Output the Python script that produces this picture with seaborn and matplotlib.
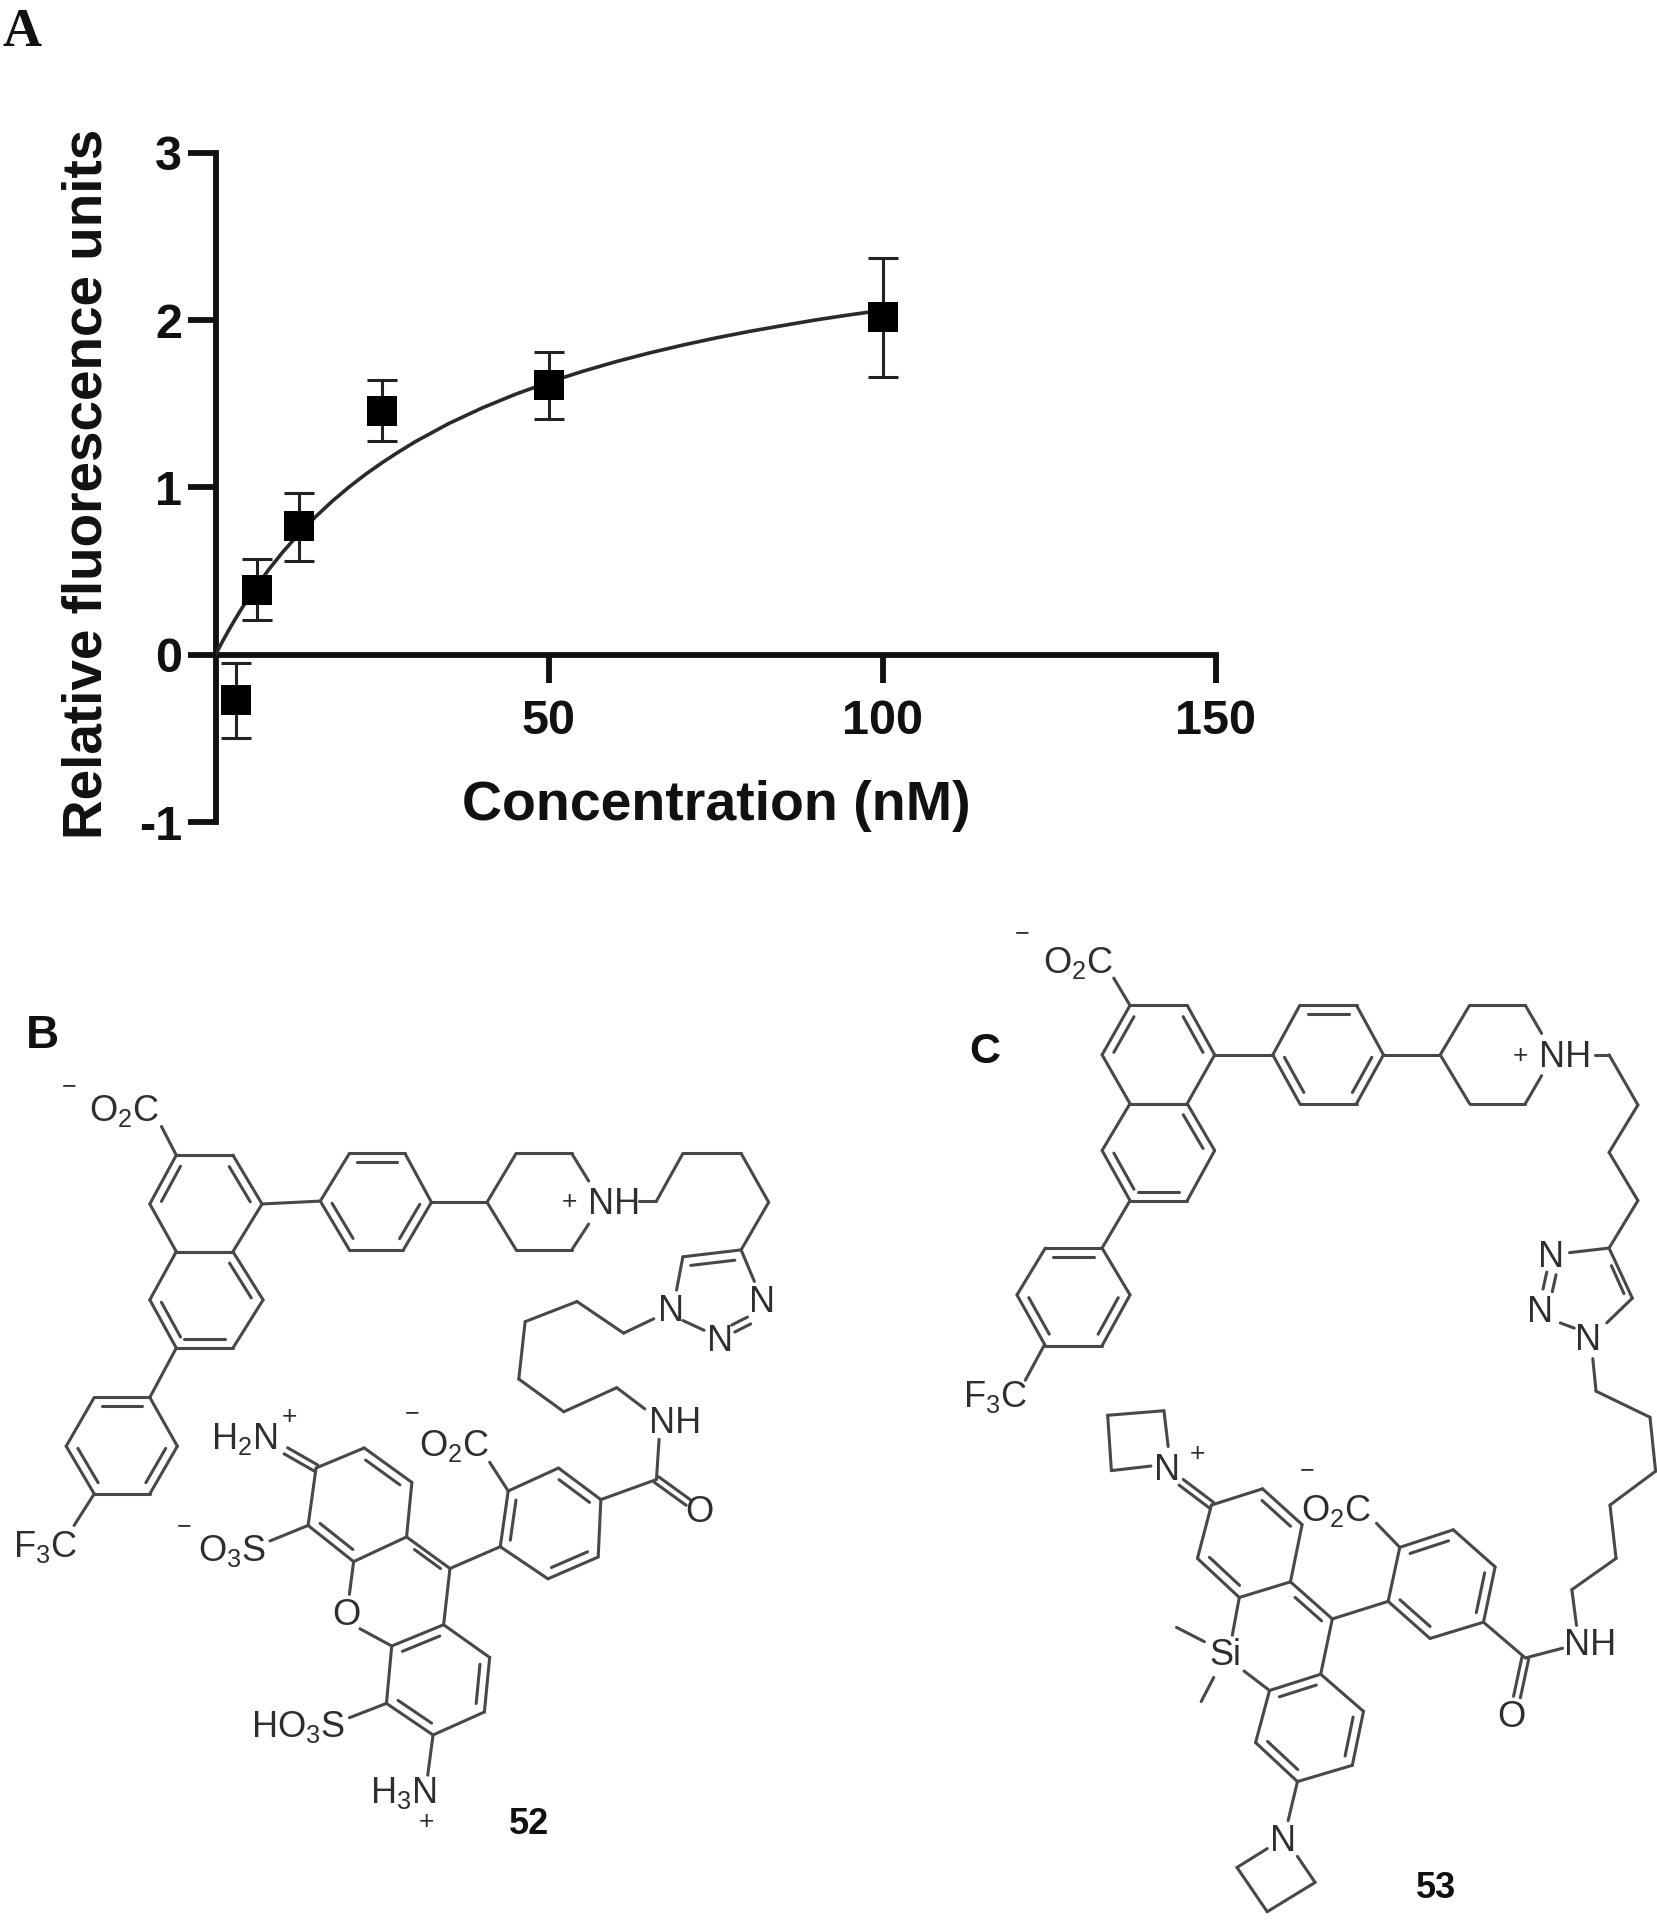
import numpy as np
import pandas as pd
import matplotlib
matplotlib.use("Agg")
import matplotlib.pyplot as plt
from matplotlib.collections import LineCollection
import seaborn as sns

# ---------- chart data ----------
conc = [3.125, 6.25, 12.5, 25, 50, 100]
rfu = [-0.27, 0.39, 0.77, 1.46, 1.61, 2.02]
err_low = [-0.50, 0.21, 0.56, 1.28, 1.41, 1.66]
err_high = [-0.05, 0.57, 0.97, 1.64, 1.81, 2.37]
curve_x = [0, 1, 2, 3, 4, 5, 6.25, 8, 10, 12.5, 15, 17.5, 20, 22.5, 25, 27.5, 30, 35, 40, 45,
           50, 55, 60, 65, 70, 75, 80, 85, 90, 95, 100]
curve_y = [0, 0.076, 0.148, 0.216, 0.281, 0.342, 0.415, 0.510, 0.610, 0.723, 0.825, 0.918, 1.002,
           1.079, 1.149, 1.214, 1.275, 1.383, 1.476, 1.558, 1.630, 1.694, 1.752, 1.804, 1.851,
           1.894, 1.933, 1.968, 2.002, 2.032, 2.060]
x_ticks = [50, 100, 150]
y_ticks = [-1, 0, 1, 2, 3]
y_tick_labels = ["-1", "0", "1", "2", "3"]

sns.set_theme(style="white")
plt.rcParams["font.family"] = ["Liberation Sans", "DejaVu Sans"]
plt.rcParams["mathtext.fontset"] = "custom"
plt.rcParams["mathtext.rm"] = "Liberation Sans"
plt.rcParams["mathtext.default"] = "rm"

W, H = 1658, 1920
fig = plt.figure(figsize=(W / 100, H / 100), dpi=100, facecolor="white")
INK = "#111111"
AXW = 4.2

ax = fig.add_axes([215.5 / W, 1 - 822 / H, (1216 - 215.5) / W, (822 - 153) / H])
ax.set_xlim(0, 150)
ax.set_ylim(-1, 3)
ax.patch.set_alpha(0)
points = pd.DataFrame({"conc": conc, "rfu": rfu})
fit = pd.DataFrame({"x": curve_x, "y": curve_y})
sns.lineplot(data=fit, x="x", y="y", ax=ax, color="#2a2a2a", lw=2.6, zorder=3)
rfu_a, lo_a, hi_a = np.array(rfu), np.array(err_low), np.array(err_high)
ax.errorbar(conc, rfu, yerr=[rfu_a - lo_a, hi_a - rfu_a], fmt="none", ecolor="#222222",
            elinewidth=2.2, capsize=10.5, capthick=2.2, zorder=4, clip_on=False)
sns.scatterplot(data=points, x="conc", y="rfu", ax=ax, marker="s", s=470, color="black",
                linewidth=0, zorder=5, clip_on=False)
for s in ["top", "right"]:
    ax.spines[s].set_visible(False)
ax.spines["bottom"].set_position(("data", 0))
for s in ["left", "bottom"]:
    ax.spines[s].set_linewidth(AXW)
    ax.spines[s].set_color(INK)
ax.set_xticks(x_ticks)
ax.set_yticks(y_ticks)
ax.set_yticklabels(y_tick_labels)
ax.tick_params(axis="both", which="major", length=20, width=AXW, color=INK, direction="out",
               bottom=True, left=True, labelcolor=INK, labelsize=35)
ax.tick_params(axis="x", pad=12)
ax.tick_params(axis="y", pad=4)
for t in ax.get_xticklabels() + ax.get_yticklabels():
    t.set_fontweight("bold")
ax.set_xlabel("")
ax.set_ylabel("")
fig.text((377 + 793) / 2 * 1.2245 / W, 1 - 806 / H, "Concentration (nM)", ha="center", va="center",
         fontsize=40, fontweight="bold", color=INK)
fig.text(88 / W, 1 - 484 / H, "Relative fluorescence units", rotation=90, ha="center", va="center",
         fontsize=39.5, fontweight="bold", color=INK)
fig.text(3 / W, 1 - 33 / H, "A", family="Liberation Serif", fontweight="bold", fontsize=39,
         ha="left", va="center", color=INK)

# ---------- chemical structures, drawn on a pixel-space overlay ----------
ov = fig.add_axes([0, 0, 1, 1], zorder=-1)
ov.set_xlim(0, W)
ov.set_ylim(H, 0)
ov.axis("off")
BOND = "#484848"


class Sketch:
    """Collects bonds and labels given in a local frame and maps them to pixels."""

    def __init__(self, ox, oy, sx, sy):
        self.o = np.array([ox, oy], float)
        self.s = np.array([sx, sy], float)
        self.segs = []

    def m(self, p):
        return self.o + np.array(p, float) / self.s

    def path(self, *pts):
        q = [self.m(p) for p in pts]
        self.segs += list(zip(q[:-1], q[1:]))

    def ring(self, pts, doubles=(), closed=True):
        q = [self.m(p) for p in pts]
        c = np.mean(q, axis=0)
        n = len(q)
        for i in range(n if closed else n - 1):
            self.segs.append((q[i], q[(i + 1) % n]))
        for i in doubles:
            a, b = q[i], q[(i + 1) % n]
            d = (b - a) / np.linalg.norm(b - a)
            nrm = np.array([-d[1], d[0]])
            if np.dot(nrm, c - (a + b) / 2) < 0:
                nrm = -nrm
            L = np.linalg.norm(b - a)
            self.segs.append((a + nrm * 9 + d * L * 0.14, b + nrm * 9 - d * L * 0.14))

    def dbl(self, p, q, off=3.5):
        a, b = self.m(p), self.m(q)
        d = (b - a) / np.linalg.norm(b - a)
        nrm = np.array([-d[1], d[0]]) * off
        self.segs += [(a + nrm, b + nrm), (a - nrm, b - nrm)]

    def text(self, p, s, size=26, dy=1, **kw):
        x, y = self.m(p)
        ov.text(x, y + dy, s, fontsize=size, ha="center", va="center",
                color=kw.pop("color", "#2e2e2e"), **kw)

    def draw(self):
        ov.add_collection(LineCollection(self.segs, colors=BOND, linewidths=2.2, capstyle="round"))


# ---- B / compound 52 ----
b = Sketch(0, 960, 1.889, 1.742)
b.ring([(333, 340), (440, 340), (495, 425), (440, 508), (333, 508), (283, 425)], [1, 5])
b.ring([(333, 508), (440, 508), (497, 592), (440, 676), (333, 676), (283, 592)], [1, 3, 4])
b.path((333, 340), (305, 290))
b.path((495, 425), (605, 420))
b.ring([(605, 420), (660, 337), (765, 337), (815, 422), (762, 505), (660, 505)], [1, 3, 5])
b.path((815, 422), (920, 422))
b.path((1112, 385), (1080, 337), (975, 337), (920, 422), (975, 505), (1080, 505), (1112, 460))
b.path((1208, 420), (1240, 420), (1290, 337), (1400, 337), (1452, 422), (1400, 505))
b.path((1278, 575), (1290, 517), (1400, 505), (1425, 560))
b.path((1305, 532), (1388, 523))
b.path((1290, 628), (1330, 645))
b.path((1382, 636), (1412, 622))
b.path((1388, 648), (1418, 634))
b.path((1235, 625), (1178, 650), (1090, 595), (992, 630), (980, 730), (1065, 787), (1165, 745), (1218, 782))
b.path((1245, 835), (1240, 905))
b.dbl((1240, 905), (1300, 945))
b.path((1240, 905), (1135, 940))
b.ring([(1135, 940), (1055, 885), (960, 925), (945, 1022), (1035, 1078), (1130, 1040)], [0, 2, 4])
b.path((960, 925), (925, 875))
b.path((945, 1022), (850, 1060))
b.ring([(768, 1005), (778, 910), (688, 850), (597, 885), (582, 985), (668, 1048)], [1, 4])
b.path((768, 1005), (850, 1060))
b.path((783, 1027), (832, 1060))
b.path((850, 1060), (838, 1158))
b.ring([(838, 1158), (925, 1215), (915, 1310), (818, 1350), (730, 1295), (740, 1195)], [1, 3, 5])
b.path((668, 1048), (660, 1105))
b.path((680, 1165), (740, 1195))
b.path((582, 985), (510, 1012))
b.path((730, 1295), (660, 1320))
b.path((818, 1350), (808, 1420))
b.dbl((597, 885), (540, 855))
b.ring([(283, 762), (178, 762), (125, 847), (178, 930), (283, 930), (335, 847)], [0, 2, 4])
b.path((333, 676), (283, 762))
b.path((178, 930), (140, 985))
b.draw()
b.text((235, 262), r"O$_2$C")
b.text((130, 218), "\u2212", size=18)
b.text((1075, 420), "+", size=19)
b.text((1160, 425), "NH")
for p in [(1268, 610), (1360, 662), (1440, 595)]:
    b.text(p, "N")
b.text((1275, 805), "NH")
b.text((1322, 960), "O")
b.text((858, 845), r"O$_2$C")
b.text((778, 787), "\u2212", size=18)
b.text((655, 1140), "O")
b.text((438, 1028), r"O$_3$S")
b.text((347, 985), "\u2212", size=18)
b.text((562, 1335), r"HO$_3$S")
b.text((762, 1450), r"H$_3$N")
b.text((805, 1500), "+", size=19)
b.text((462, 832), r"H$_2$N")
b.text((547, 795), "+", size=19)
b.text((85, 1020), r"F$_3$C")
b.text((1000, 1505), "52", size=26, fontweight="bold", color=INK)
b.text((80, 125), "B", size=33, dy=4, fontweight="bold", color=INK)

# ---- C / compound 53 ----
c = Sketch(930, 900, 2.15, 1.537)
c.ring([(430, 162), (553, 162), (612, 238), (553, 313), (430, 313), (370, 238)], [1, 5])
c.ring([(430, 313), (553, 313), (612, 385), (553, 462), (430, 462), (370, 385)], [1, 3, 4])
c.path((430, 162), (395, 120))
c.path((612, 238), (737, 238))
c.ring([(737, 238), (795, 162), (917, 162), (975, 238), (917, 313), (795, 313)], [1, 3, 5])
c.path((975, 238), (1097, 238))
c.path((1315, 205), (1280, 162), (1160, 162), (1097, 238), (1160, 313), (1280, 313), (1315, 270))
c.path((1430, 238), (1460, 238), (1522, 315), (1460, 388), (1522, 462), (1460, 535))
c.path((1375, 542), (1460, 535), (1510, 612), (1455, 650))
c.path((1465, 562), (1492, 605))
c.path((1355, 650), (1385, 658))
c.path((1318, 598), (1326, 572))
c.path((1338, 602), (1346, 576))
c.path((1425, 705), (1432, 755), (1548, 795), (1560, 878), (1462, 930), (1475, 1012), (1380, 1060), (1390, 1115))
c.path((1360, 1150), (1280, 1165))
c.dbl((1280, 1165), (1262, 1225))
c.path((1280, 1165), (1190, 1110))
c.ring([(1190, 1110), (1215, 1025), (1125, 968), (1010, 995), (985, 1078), (1075, 1135)], [0, 2, 4])
c.path((1010, 995), (960, 958))
c.path((985, 1078), (865, 1105))
c.ring([(775, 1048), (800, 960), (715, 905), (605, 930), (575, 1012), (665, 1072)], [1, 4])
c.path((775, 1048), (865, 1105))
c.path((785, 1072), (842, 1108))
c.dbl((605, 930), (540, 895))
c.path((475, 870), (390, 877), (382, 792), (503, 785), (512, 840))
c.path((665, 1072), (650, 1130))
c.path((530, 1118), (590, 1140))
c.path((610, 1195), (583, 1232))
c.path((675, 1185), (730, 1215))
c.path((865, 1105), (840, 1190))
c.ring([(840, 1190), (932, 1247), (908, 1330), (790, 1355), (700, 1295), (730, 1215)], [1, 3, 5])
c.path((790, 1355), (770, 1415))
c.path((725, 1458), (660, 1487), (725, 1555), (828, 1510), (790, 1470))
c.ring([(370, 535), (248, 535), (187, 607), (248, 685), (370, 685), (430, 607)], [0, 2, 4])
c.path((430, 462), (370, 535))
c.path((245, 685), (205, 738))
c.draw()
c.text((318, 95), r"O$_2$C")
c.text((197, 50), "\u2212", size=18)
c.text((1270, 238), "+", size=19)
c.text((1365, 240), "NH")
for p in [(1335, 548), (1312, 632), (1415, 675)]:
    c.text(p, "N")
c.text((1420, 1145), "NH")
c.text((1250, 1255), "O")
c.text((873, 938), r"O$_2$C")
c.text((810, 875), "\u2212", size=18)
c.text((510, 875), "N")
c.text((575, 850), "+", size=19)
c.text((635, 1160), "Si")
c.text((760, 1445), "N")
c.text((140, 762), r"F$_3$C")
c.text((1088, 1518), "53", size=26, fontweight="bold", color=INK)
c.text((118, 228), "C", size=31, dy=4, fontweight="bold", color=INK)

fig.savefig("out.png", dpi=100, facecolor="white")
